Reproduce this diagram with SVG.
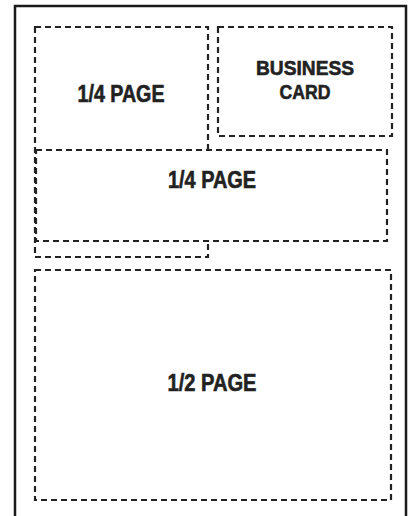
<svg xmlns="http://www.w3.org/2000/svg" width="411" height="516" viewBox="0 0 411 516">
<style>
.frame{fill:#fff;stroke:#1a1a1a;stroke-width:2.5}
.ad{fill:#fff;stroke:#222;stroke-width:2.2;stroke-dasharray:6 4}
.lbl{font-family:"Liberation Sans",Arial,sans-serif;font-weight:bold;fill:#222;stroke:#222;stroke-width:0.6;text-anchor:middle}
</style>
<rect class="frame" x="15" y="6" width="391" height="520"/>
<g id="quarter-page-1">
<rect class="ad" x="35" y="27" width="173" height="230"/>
<text class="lbl" x="121" y="102" font-size="23" textLength="87" lengthAdjust="spacingAndGlyphs">1/4 PAGE</text>
</g>
<g id="business-card">
<rect class="ad" x="218" y="27" width="174" height="109"/>
<text class="lbl" x="305" y="74.5" font-size="20.5" textLength="98" lengthAdjust="spacingAndGlyphs">BUSINESS</text>
<text class="lbl" x="305" y="98.5" font-size="20.5" textLength="51" lengthAdjust="spacingAndGlyphs">CARD</text>
</g>
<g id="quarter-page-2">
<rect class="ad" x="36" y="150" width="351" height="91"/>
<text class="lbl" x="212" y="188" font-size="23" textLength="88" lengthAdjust="spacingAndGlyphs">1/4 PAGE</text>
</g>
<g id="half-page">
<rect class="ad" x="35" y="270" width="356" height="230"/>
<text class="lbl" x="212" y="391" font-size="23" textLength="89" lengthAdjust="spacingAndGlyphs">1/2 PAGE</text>
</g>
<g id="connectors"/>
</svg>
